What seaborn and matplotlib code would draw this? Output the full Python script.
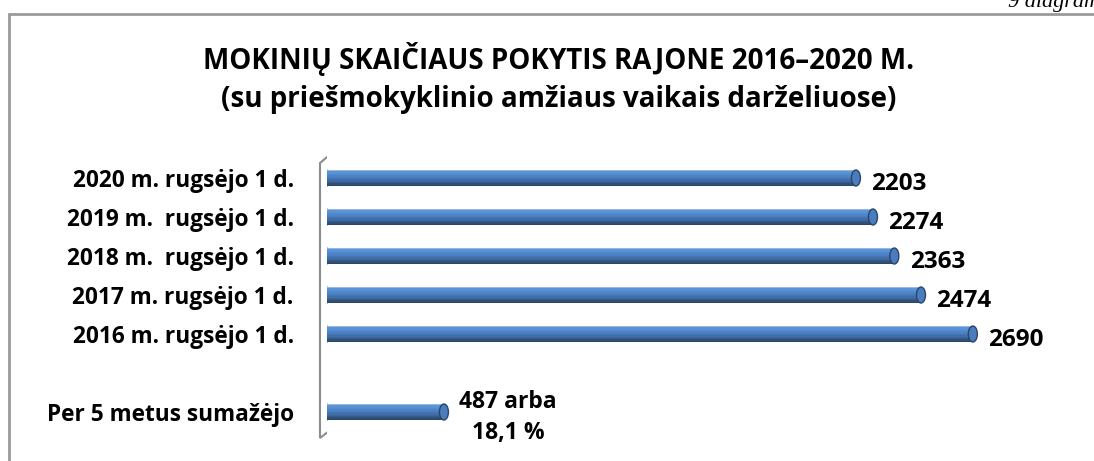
import pandas as pd
import matplotlib.pyplot as plt
import seaborn as sns
from matplotlib.patches import Polygon, Rectangle, Ellipse

# data
categories = ["2020 m. rugsėjo 1 d.", "2019 m.  rugsėjo 1 d.", "2018 m.  rugsėjo 1 d.",
              "2017 m. rugsėjo 1 d.", "2016 m. rugsėjo 1 d.", "Per 5 metus sumažėjo"]
values = [2203, 2274, 2363, 2474, 2690, 487]
value_labels = ["2203", "2274", "2363", "2474", "2690", "487 arba\n18,1 %"]
order = categories[:5] + [" "] + categories[5:]

sns.set_style("white")
plt.rcParams['font.family'] = ['Open Sans', 'DejaVu Sans']
plt.rcParams['text.color'] = 'black'
plt.rcParams['ytick.color'] = 'black'

df = pd.DataFrame({"kat": categories, "val": values})

fig = plt.figure(figsize=(10.94, 4.61), dpi=100)
ax = fig.add_axes([327/1094, 1-439.3/461, 733/1094, 288.6/461])

sns.barplot(data=df, x="val", y="kat", order=order, orient="h", color="#4a7fc2",
            linewidth=0, width=0.41, ax=ax, saturation=1)

# cylinder shading, top to bottom
shades = ["#9ab8de", "#5b93d9", "#5890d6", "#538ad0", "#4e83c8", "#4a7dbf", "#4576b4",
          "#416ea8", "#3c6699", "#365c8a", "#2f4f77", "#2a4566"]
xmax = 3053
cap = xmax*9/733
for p in list(ax.patches):
    x0, y0 = p.get_x(), p.get_y()
    w, h = p.get_width(), p.get_height()
    n = len(shades)
    for i, col in enumerate(shades):
        ax.add_patch(Rectangle((x0, y0 + h*i/n), w, h/n*1.05, color=col, lw=0, zorder=3))
    ax.add_patch(Ellipse((x0 + w, y0 + h/2), cap, h, facecolor="#4a7dbf",
                         edgecolor="#2a4566", lw=1.0, zorder=4))
    ax.add_patch(Ellipse((x0, y0 + h/2), cap, h, facecolor="#4e83c8",
                         edgecolor="#3c6699", lw=0.6, zorder=2))

ax.set_xlim(0, xmax)
ax.set_ylim(6.7, -0.7)
ax.set_xlabel("")
ax.set_ylabel("")
ax.set_xticks([])
ax.tick_params(axis="y", length=0, pad=24, labelcolor="black")
for t in ax.get_yticklabels():
    t.set_fontsize(16.3)
    t.set_fontweight("bold")
for s in ax.spines.values():
    s.set_visible(False)

pos = {c: i for i, c in enumerate(order)}
for c, v, lab in zip(categories, values, value_labels):
    if "\n" in lab:
        ax.annotate(lab, (v, pos[c]), xytext=(46, -4), textcoords="offset points",
                    ha="center", va="center", fontsize=16.5, fontweight="bold", linespacing=1.35)
    else:
        ax.annotate(lab, (v, pos[c]), xytext=(11, -4), textcoords="offset points",
                    ha="left", va="center", fontsize=17.5, fontweight="bold")

# back wall of the 3D chart
W, H = 1094, 461
wall = [(320, 163), (333, 152), (333, 428), (320, 438)]
fig.add_artist(Polygon([(x/W, 1-y/H) for x, y in wall], closed=True, fill=False,
                       edgecolor="#8c8c8c", lw=1.5, transform=fig.transFigure, zorder=0))

# outer frame
fig.add_artist(Rectangle((9/W, -0.1), 1.1, 1-14/H+0.1, fill=False, edgecolor="#9a9a9a",
                         lw=2, transform=fig.transFigure))

fig.text(0.511, 1-59/H, "MOKINIŲ SKAIČIAUS POKYTIS RAJONE 2016–2020 M.",
         ha="center", va="center", fontsize=20, fontweight="bold")
fig.text(0.511, 1-99/H, "(su priešmokyklinio amžiaus vaikais darželiuose)",
         ha="center", va="center", fontsize=20, fontweight="bold")
fig.text(1060/W, 1-3/H, "9 diagrama", ha="center", va="center", fontsize=16,
         style="italic", family=["Liberation Serif", "DejaVu Serif"])

fig.savefig("out.png", dpi=100)
